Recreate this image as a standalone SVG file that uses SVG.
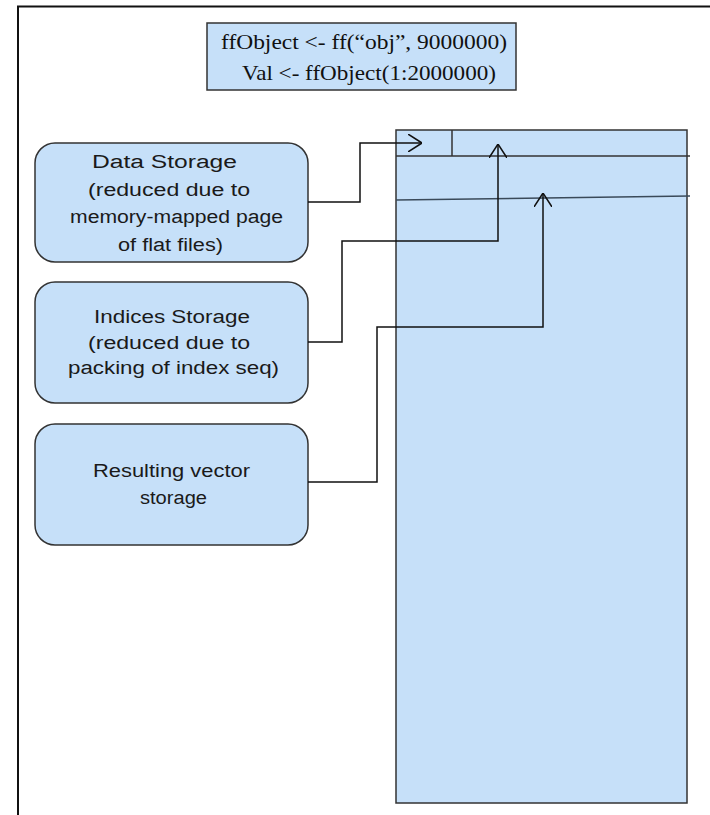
<svg xmlns="http://www.w3.org/2000/svg" width="710" height="815" viewBox="0 0 710 815">
  <style>
    .box { fill: #c6e0f9; stroke: #333; stroke-width: 1.5; }
    .lbl { font-family: "Liberation Sans", Arial, sans-serif; font-size: 18px; fill: #1a1a1a; text-anchor: middle; }
    .code { font-family: "Liberation Serif", "Times New Roman", serif; font-size: 21px; fill: #111; }
    .conn { fill: none; stroke: #111; stroke-width: 1.5; }
  </style>
  <defs>
    <marker id="open" viewBox="0 0 14 18" refX="14" refY="9" markerWidth="14" markerHeight="18" markerUnits="userSpaceOnUse" orient="auto">
      <path d="M0,0 L14,9 L0,18" fill="none" stroke="#111" stroke-width="1.5"/>
    </marker>
  </defs>
  <rect x="0" y="0" width="710" height="815" fill="#fff"/>
  <path d="M18,815 V6.5 H710" fill="none" stroke="#111" stroke-width="2"/>

  <g id="code-box">
    <rect x="207" y="23" width="309" height="67" class="box"/>
    <text class="code" x="221" y="49" textLength="286" lengthAdjust="spacingAndGlyphs">ffObject &lt;- ff(“obj”,  9000000)</text>
    <text class="code" x="242" y="80" textLength="254" lengthAdjust="spacingAndGlyphs">Val &lt;- ffObject(1:2000000)</text>
  </g>

  <g id="memory">
    <rect x="396" y="130" width="291" height="673" class="box"/>
    <line x1="396" y1="156" x2="690" y2="156" stroke="#333" stroke-width="1.5"/>
    <line x1="452" y1="130" x2="452" y2="156" stroke="#333" stroke-width="1.5"/>
    <line x1="396" y1="200" x2="690" y2="196" stroke="#3a4a5a" stroke-width="1.5"/>
  </g>

  <g id="data-storage">
    <rect x="35" y="143" width="273" height="119" rx="20" class="box"/>
    <text class="lbl" x="164.5" y="168" textLength="145" lengthAdjust="spacingAndGlyphs">Data Storage</text>
    <text class="lbl" x="169" y="196" textLength="162" lengthAdjust="spacingAndGlyphs">(reduced due to</text>
    <text class="lbl" x="176.5" y="223" textLength="213" lengthAdjust="spacingAndGlyphs">memory-mapped  page</text>
    <text class="lbl" x="170.5" y="251" textLength="105" lengthAdjust="spacingAndGlyphs">of flat files)</text>
  </g>

  <g id="indices-storage">
    <rect x="35" y="282" width="273" height="121" rx="20" class="box"/>
    <text class="lbl" x="172" y="323" textLength="156" lengthAdjust="spacingAndGlyphs">Indices Storage</text>
    <text class="lbl" x="169" y="349" textLength="162" lengthAdjust="spacingAndGlyphs">(reduced due to</text>
    <text class="lbl" x="173.5" y="374" textLength="211" lengthAdjust="spacingAndGlyphs">packing of index seq)</text>
  </g>

  <g id="result-storage">
    <rect x="35" y="424" width="273" height="121" rx="20" class="box"/>
    <text class="lbl" x="171.5" y="477" textLength="157" lengthAdjust="spacingAndGlyphs">Resulting vector</text>
    <text class="lbl" x="173.5" y="504" textLength="67" lengthAdjust="spacingAndGlyphs">storage</text>
  </g>

  <g id="connectors">
    <path class="conn" d="M308,202 H360 V143 H422" marker-end="url(#open)"/>
    <path class="conn" d="M308,342 H342 V241 H498 V144" marker-end="url(#open)"/>
    <path class="conn" d="M308,482 H377 V327 H543 V193" marker-end="url(#open)"/>
  </g>
</svg>
